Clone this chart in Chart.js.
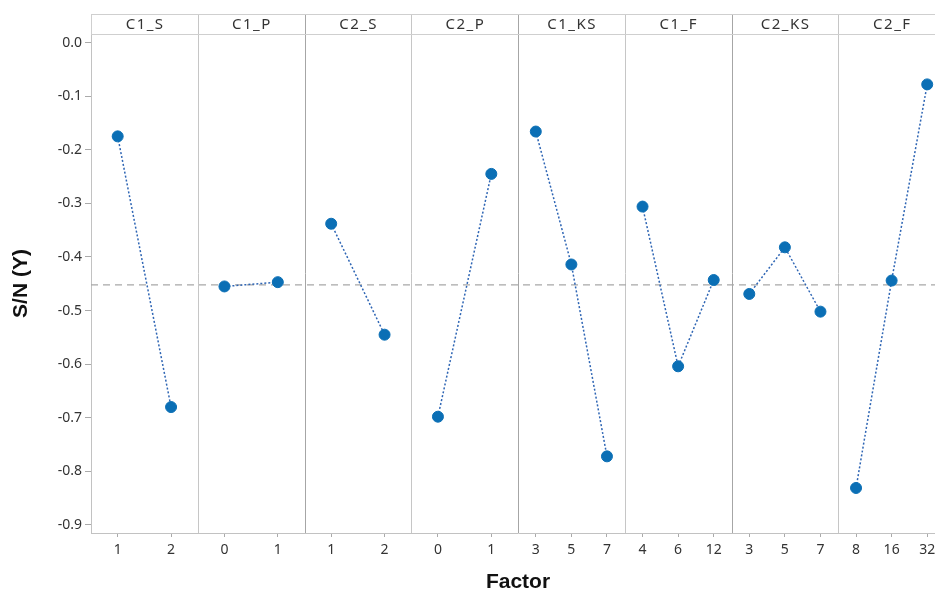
<!DOCTYPE html>
<html>
<head>
<meta charset="utf-8">
<script src="https://cdn.jsdelivr.net/npm/chart.js@4/dist/chart.umd.min.js"></script>
<style>
    html, body { margin:0; padding:0; background:#fff; overflow:hidden; }
    #contenedor { position:relative; width:935px; height:597px; overflow:hidden; }
    #grafica { position:absolute; left:0; top:0; }
</style>
</head>
<body>
<div id="contenedor"><canvas id="grafica" width="955" height="597"></canvas></div>
<script>
// factores y niveles (paneles)
var factores = ['C1_S', 'C1_P', 'C2_S', 'C2_P', 'C1_KS', 'C1_F', 'C2_KS', 'C2_F'];
var niveles = [
    ['1', '2'],
    ['0', '1'],
    ['1', '2'],
    ['0', '1'],
    ['3', '5', '7'],
    ['4', '6', '12'],
    ['3', '5', '7'],
    ['8', '16', '32']
];
// medias S/N por nivel
var sn_c1_s  = [-0.175, -0.680];
var sn_c1_p  = [-0.455, -0.447];
var sn_c2_s  = [-0.338, -0.545];
var sn_c2_p  = [-0.698, -0.245];
var sn_c1_ks = [-0.166, -0.414, -0.772];
var sn_c1_f  = [-0.306, -0.604, -0.443];
var sn_c2_ks = [-0.469, -0.382, -0.502];
var sn_c2_f  = [-0.831, -0.444, -0.078];
var mediaSN = -0.452;
var yTicks = [0.0, -0.1, -0.2, -0.3, -0.4, -0.5, -0.6, -0.7, -0.8, -0.9];

var valores = [sn_c1_s, sn_c1_p, sn_c2_s, sn_c2_p, sn_c1_ks, sn_c1_f, sn_c2_ks, sn_c2_f];
var AZUL = '#0b6fb5';

// posicion de cada nivel dentro de su panel
var etiquetasX = {};
var posicionesX = [];
var datasets = [];
for (var i = 0; i < factores.length; i++) {
    var n = niveles[i].length;
    var puntos = [];
    for (var j = 0; j < n; j++) {
        var x = i + (j + 0.5) / n;
        etiquetasX[x.toFixed(4)] = niveles[i][j];
        posicionesX.push(x);
        puntos.push({x: x, y: valores[i][j]});
    }
    datasets.push({
        label: factores[i],
        data: puntos,
        borderColor: '#2e65b4',
        borderWidth: 1.5,
        borderDash: [2, 2],
        pointRadius: 5.5,
        pointBackgroundColor: AZUL,
        pointBorderColor: AZUL,
        pointBorderWidth: 1,
        order: 0
    });
}
// linea de la media general
datasets.push({
    label: 'media',
    data: [{x: 0, y: mediaSN}, {x: factores.length, y: mediaSN}],
    borderColor: '#a8a8a8',
    borderWidth: 1.3,
    borderDash: [7, 5],
    pointRadius: 0,
    order: 10
});

var paneles = {
    id: 'paneles',
    beforeDatasetsDraw: function (chart) {
        var ctx = chart.ctx, area = chart.chartArea, sx = chart.scales.x;
        var arriba = 14;
        ctx.save();
        ctx.lineWidth = 1;
        for (var i = 1; i < factores.length; i++) {
            var px = Math.round(sx.getPixelForValue(i)) + 0.5;
            ctx.strokeStyle = (i % 2 === 0) ? '#a6a6a6' : '#c6c6c6';
            ctx.beginPath();
            ctx.moveTo(px, arriba);
            ctx.lineTo(px, area.bottom);
            ctx.stroke();
        }
        ctx.strokeStyle = '#cfcfcf';
        ctx.beginPath();
        ctx.moveTo(area.left, arriba + 0.5);
        ctx.lineTo(area.right, arriba + 0.5);
        ctx.moveTo(area.left, Math.round(area.top) + 0.5);
        ctx.lineTo(area.right, Math.round(area.top) + 0.5);
        ctx.moveTo(area.left + 0.5, arriba);
        ctx.lineTo(area.left + 0.5, area.top);
        ctx.stroke();
        ctx.fillStyle = '#333';
        ctx.font = '15px "Noto Sans"';
        ctx.letterSpacing = '1.5px';
        ctx.textAlign = 'center';
        ctx.textBaseline = 'middle';
        for (var k = 0; k < factores.length; k++) {
            var cx = (sx.getPixelForValue(k) + sx.getPixelForValue(k + 1)) / 2;
            ctx.fillText(factores[k], cx + 0.75, (arriba + area.top) / 2 + 1);
        }
        ctx.restore();
    }
};

var canvas = document.getElementById('grafica').getContext('2d');
window.grafica = new Chart(canvas, {
    type: 'line',
    data: {datasets: datasets},
    options: {
        responsive: false,
        animation: false,
        devicePixelRatio: 1,
        layout: {padding: {top: 34, right: 10, left: 0, bottom: 0}},
        plugins: {legend: {display: false}, tooltip: {enabled: false}},
        scales: {
            x: {
                type: 'linear',
                min: 0,
                max: factores.length,
                afterBuildTicks: function (scale) {
                    scale.ticks = posicionesX.map(function (v) { return {value: v}; });
                },
                afterFit: function (scale) { scale.height = 64; },
                ticks: {
                    autoSkip: false,
                    maxRotation: 0,
                    padding: 5,
                    color: '#333',
                    font: {family: 'Noto Sans', size: 14},
                    callback: function (v) { return etiquetasX[Number(v).toFixed(4)]; }
                },
                grid: {drawOnChartArea: false, drawTicks: true, tickLength: 4, color: '#aaa'},
                border: {display: true, color: '#c2c2c2', dash: [2, 2]},
                title: {
                    display: true,
                    text: 'Factor',
                    color: '#111',
                    font: {family: 'Liberation Sans', size: 21, weight: 'bold'},
                    padding: {top: 0, bottom: 2}
                }
            },
            y: {
                min: -0.915,
                max: 0.016,
                afterBuildTicks: function (scale) {
                    scale.ticks = yTicks.map(function (v) { return {value: v}; });
                },
                afterFit: function (scale) { scale.width = 91; },
                ticks: {
                    padding: 3,
                    color: '#333',
                    font: {family: 'Noto Sans', size: 14},
                    callback: function (v) { return Number(v).toFixed(1); }
                },
                grid: {drawOnChartArea: false, drawTicks: true, tickLength: 6, color: '#aaa'},
                border: {display: true, color: '#c2c2c2', dash: [2, 2]},
                title: {
                    display: true,
                    text: 'S/N (Y)',
                    color: '#111',
                    font: {family: 'Liberation Sans', size: 21, weight: 'bold'},
                    padding: {top: 9, bottom: 0}
                }
            }
        }
    },
    plugins: [paneles]
});
</script>
</body>
</html>
